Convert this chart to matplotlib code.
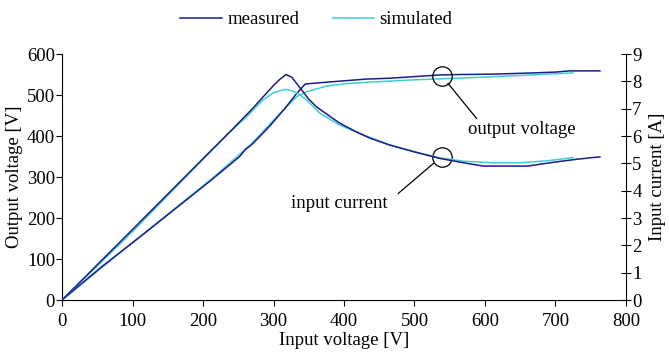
import matplotlib
matplotlib.use("Agg")
import matplotlib.pyplot as plt
from matplotlib.lines import Line2D

plt.rcParams["font.family"] = ["Liberation Serif", "DejaVu Serif"]
plt.rcParams["font.size"] = 13.5

# input current vs input voltage (A)
ic_meas_x = [0, 100, 200, 240, 270, 300, 310, 318, 326, 338, 350, 361, 380, 394, 420,
             437, 465, 500, 536, 570, 598, 630, 660, 700, 730, 763]
ic_meas_y = [0, 2.58, 5.17, 6.2, 7.0, 7.85, 8.1, 8.25, 8.15, 7.75, 7.35, 7.07, 6.72, 6.47, 6.12,
             5.92, 5.67, 5.42, 5.18, 5.02, 4.9, 4.9, 4.9, 5.05, 5.15, 5.24]
ic_sim_x = [0, 100, 210, 238, 262, 285, 300, 316, 326, 335, 347, 366, 394, 420, 465,
            500, 536, 570, 612, 650, 690, 725]
ic_sim_y = [0, 2.5, 5.42, 6.15, 6.71, 7.32, 7.58, 7.71, 7.66, 7.55, 7.32, 6.83, 6.4, 6.12, 5.67,
            5.42, 5.2, 5.08, 5.02, 5.02, 5.1, 5.21]

# output voltage vs input voltage (V)
vo_meas_x = [0, 54, 115, 212, 252, 260, 271, 295, 316, 333, 345, 380, 432, 465, 500,
             536, 560, 612, 668, 700, 720, 763]
vo_meas_y = [0, 78, 160, 293, 350, 367, 382, 425, 467, 504, 527, 532, 539, 541, 545,
             549, 550, 551, 554, 556, 559, 559]
vo_sim_x = [0, 100, 212, 267, 290, 309, 333, 347, 375, 404, 432, 498, 560, 640, 725]
vo_sim_y = [0, 140, 295, 378, 420, 455, 496, 508, 522, 528, 531, 537, 541, 547, 554]

C_MEAS = "#1c1c8c"
C_SIM = "#3ccfcf"

fig = plt.figure(figsize=(6.69, 3.58), dpi=100)
ax = fig.add_axes([0.0927, 0.162, 0.843, 0.687])
ax2 = ax.twinx()

ax.plot(vo_sim_x, vo_sim_y, color=C_SIM, lw=1.1)
ax.plot(vo_meas_x, vo_meas_y, color=C_MEAS, lw=1.1)
ax2.plot(ic_sim_x, ic_sim_y, color=C_SIM, lw=1.1)
ax2.plot(ic_meas_x, ic_meas_y, color=C_MEAS, lw=1.1)

ax.set_xlim(0, 800)
ax.set_ylim(0, 600)
ax2.set_ylim(0, 9)
ax.set_xticks(range(0, 801, 100))
ax.set_yticks(range(0, 601, 100))
ax2.set_yticks(range(0, 10))

for a in (ax, ax2):
    a.spines["top"].set_visible(False)
ax.spines["right"].set_visible(False)
ax2.spines["left"].set_visible(False)
ax2.spines["bottom"].set_visible(False)

ax.tick_params(axis="y", direction="out", length=4, width=0.8, pad=1)
ax.tick_params(axis="x", direction="out", length=4, width=0.8, pad=5)
ax2.tick_params(axis="y", direction="inout", length=7, width=0.8, pad=1)

ax.set_xlabel("Input voltage [V]", labelpad=2)
ax.set_ylabel("Output voltage [V]", labelpad=3)
ax2.set_ylabel("Input current [A]", labelpad=5)

# annotation circles and leaders (in output-voltage coordinates)
ax.plot([538.5], [547], marker="o", ms=14, mfc="none", mec="black", mew=0.9, zorder=5)
ax.plot([538.5], [350], marker="o", ms=14, mfc="none", mec="black", mew=0.9, zorder=5)
ax.plot([547.5, 588], [528.5, 443], color="black", lw=0.9)
ax.plot([526.7, 477], [333, 260], color="black", lw=0.9)
ax.text(652, 415, "output voltage", ha="center", va="center")
ax.text(393, 236, "input current", ha="center", va="center")

handles = [Line2D([], [], color=C_MEAS, lw=1.1), Line2D([], [], color=C_SIM, lw=1.1)]
fig.legend(handles, ["measured", "simulated"], loc="center", bbox_to_anchor=(0.473, 0.945),
           ncol=2, frameon=False, handlelength=2.2, handletextpad=0.3, columnspacing=1.8)

fig.savefig("out.png", dpi=100)
